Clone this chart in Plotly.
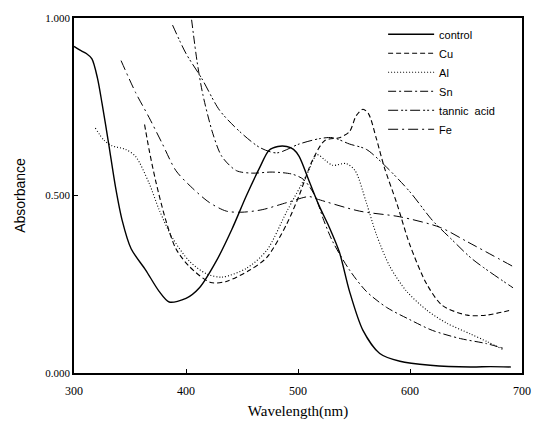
import plotly.graph_objects as go

# ---- data ----
control_wl = [300, 305, 311, 316, 321, 325, 331, 337, 343, 351, 364, 376, 385, 400, 412, 427, 441, 454, 466, 474, 482, 490, 496, 501, 510, 519, 528, 537, 546, 558, 573, 591, 618, 654, 672, 690]
control_a = [0.92, 0.91, 0.90, 0.885, 0.83, 0.76, 0.645, 0.525, 0.43, 0.35, 0.29, 0.23, 0.20, 0.21, 0.24, 0.315, 0.405, 0.50, 0.58, 0.627, 0.638, 0.638, 0.63, 0.61, 0.54, 0.47, 0.41, 0.34, 0.23, 0.12, 0.055, 0.033, 0.022, 0.017, 0.018, 0.017]

cu_wl = [363, 367, 373, 382, 391, 403, 422, 436, 457, 472, 490, 501, 513, 524, 537, 546, 552, 558, 563, 570, 577, 588, 600, 615, 629, 651, 668, 690]
cu_a = [0.70, 0.63, 0.54, 0.43, 0.35, 0.30, 0.255, 0.258, 0.29, 0.325, 0.42, 0.50, 0.60, 0.655, 0.663, 0.68, 0.725, 0.743, 0.73, 0.66, 0.58, 0.48, 0.36, 0.25, 0.19, 0.163, 0.163, 0.177]

al_wl = [319, 327, 334, 346, 355, 367, 376, 388, 403, 418, 432, 454, 472, 490, 508, 517, 524, 531, 543, 551, 561, 570, 582, 597, 615, 633, 654, 669, 683]
al_a = [0.69, 0.655, 0.64, 0.63, 0.61, 0.535, 0.46, 0.38, 0.315, 0.28, 0.27, 0.295, 0.345, 0.455, 0.56, 0.615, 0.60, 0.585, 0.59, 0.57, 0.48, 0.39, 0.30, 0.23, 0.177, 0.14, 0.11, 0.088, 0.066]

sn_wl = [405, 410, 415, 424, 432, 445, 459, 477, 495, 505, 515, 523, 531, 546, 561, 579, 600, 620, 645, 668, 683]
sn_a = [0.995, 0.875, 0.785, 0.674, 0.61, 0.57, 0.563, 0.566, 0.56, 0.545, 0.50, 0.43, 0.37, 0.29, 0.23, 0.185, 0.15, 0.12, 0.097, 0.083, 0.07]

tannic_wl = [388, 400, 414, 430, 448, 466, 481, 501, 519, 531, 546, 561, 579, 600, 620, 636, 656, 692]
tannic_a = [0.98, 0.90, 0.83, 0.74, 0.68, 0.635, 0.62, 0.645, 0.66, 0.663, 0.645, 0.63, 0.58, 0.51, 0.43, 0.38, 0.32, 0.24]

fe_wl = [342, 355, 367, 379, 391, 406, 421, 436, 450, 468, 490, 510, 517, 555, 591, 627, 651, 692]
fe_a = [0.88, 0.79, 0.72, 0.645, 0.57, 0.52, 0.48, 0.456, 0.453, 0.46, 0.48, 0.497, 0.49, 0.456, 0.44, 0.41, 0.37, 0.30]

x_ticks = [300, 400, 500, 600, 700]
y_ticks = [0.0, 0.5, 1.0]
y_labels = ["0.000", "0.500", "1.000"]

series = [
    ("control", control_wl, control_a, "solid", 1.4),
    ("Cu", cu_wl, cu_a, "5px,3px", 1.1),
    ("Al", al_wl, al_a, "1px,2px", 1.1),
    ("Sn", sn_wl, sn_a, "8px,3px,2px,3px", 1.0),
    ("tannic  acid", tannic_wl, tannic_a, "10px,3px,2px,2px,2px,3px", 1.0),
    ("Fe", fe_wl, fe_a, "10px,4px,2px,4px", 1.0),
]

fig = go.Figure()
for name, wl, a, dash, w in series:
    fig.add_trace(go.Scatter(
        x=wl, y=a, mode="lines", name=name,
        line=dict(color="black", width=w, dash=dash, shape="spline", smoothing=0.8),
    ))

serif = "Liberation Serif"
fig.update_layout(
    width=544, height=429,
    margin=dict(l=74, r=22, t=15, b=52),
    paper_bgcolor="white", plot_bgcolor="white",
    showlegend=True,
    legend=dict(
        x=0.69, y=0.995, xanchor="left", yanchor="top",
        bgcolor="rgba(0,0,0,0)", borderwidth=0,
        font=dict(family="Liberation Sans", size=11, color="black"),
        tracegroupgap=0, itemwidth=46,
    ),
    xaxis=dict(
        range=[300, 700], tickvals=x_ticks, ticktext=[str(v) for v in x_ticks],
        showline=True, mirror=True, linecolor="black", linewidth=1.6,
        ticks="inside", ticklen=4, tickcolor="black", showgrid=False, zeroline=False,
        tickfont=dict(family=serif, size=12, color="black"), ticklabelstandoff=6,
        title=dict(text="Wavelength(nm)", font=dict(family=serif, size=15, color="black"), standoff=8),
    ),
    yaxis=dict(
        range=[0, 1], tickvals=y_ticks, ticktext=y_labels,
        showline=True, mirror=True, linecolor="black", linewidth=1.6,
        ticks="inside", ticklen=4, tickcolor="black", showgrid=False, zeroline=False,
        tickfont=dict(family=serif, size=11, color="black"),
        title=dict(text="Absorbance", font=dict(family="Liberation Sans", size=14, color="black"), standoff=16),
    ),
)

fig.write_html("out.html")
